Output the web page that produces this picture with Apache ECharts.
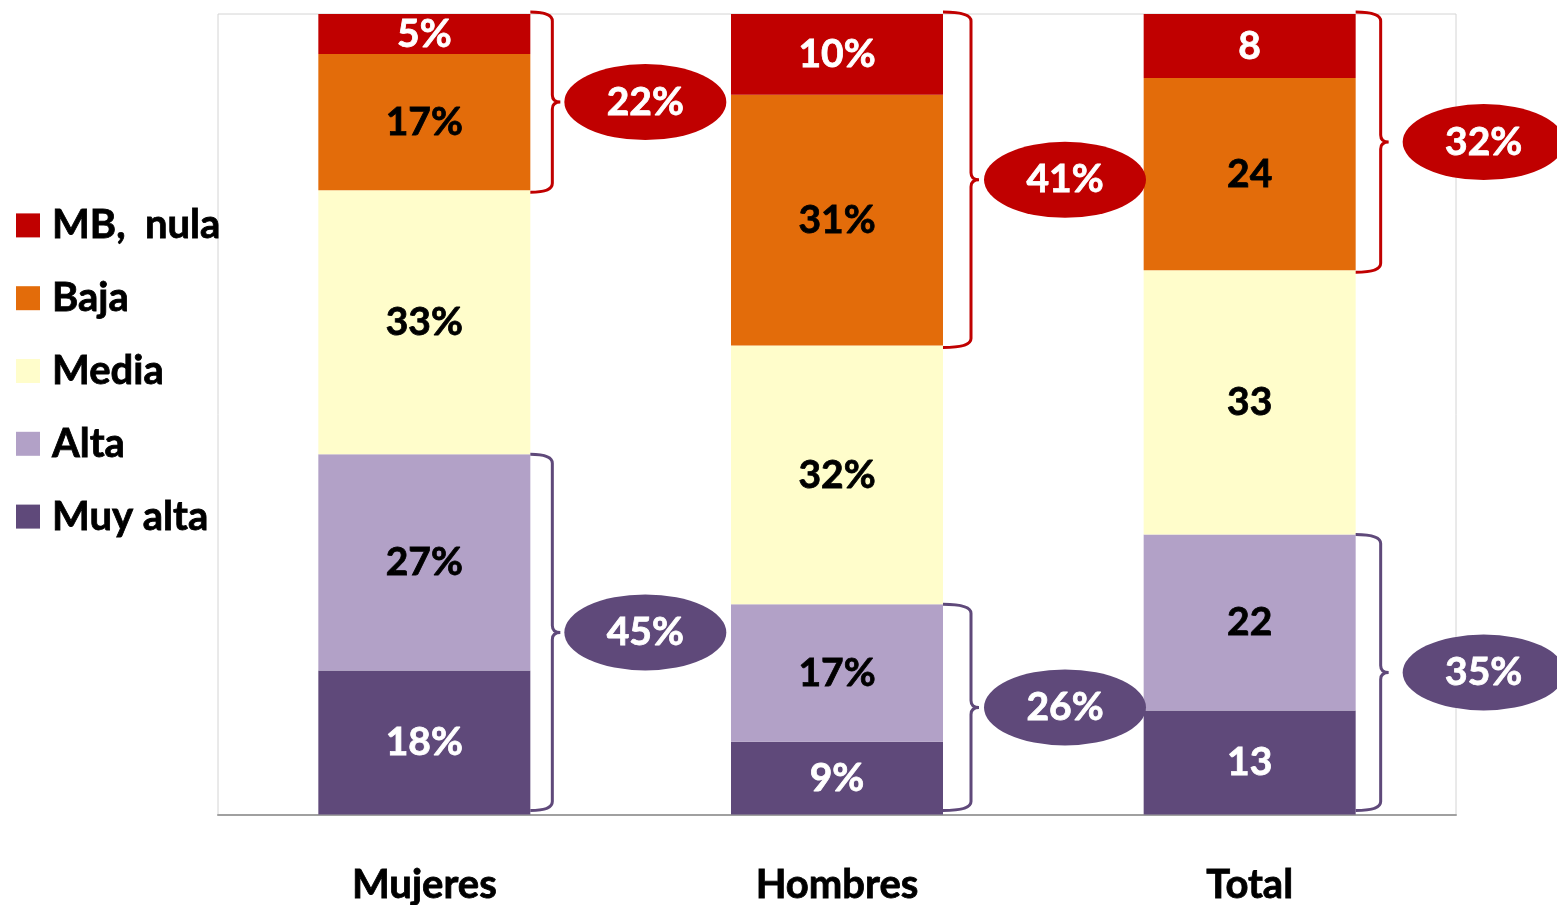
<!DOCTYPE html>
<html>
<head>
<meta charset="utf-8">
<script src="https://cdn.jsdelivr.net/npm/echarts@6/dist/echarts.min.js"></script>
<style>
    html,body{margin:0;padding:0;background:#fff;}
    #chart{width:1557px;height:905px;}
</style>
</head>
<body>
<div id="chart"></div>
<script>
    // datos
    const categories = ['Mujeres', 'Hombres', 'Total'];
    const muyAlta = [18, 9, 13];
    const alta = [27, 17, 22];
    const media = [33, 32, 33];
    const baja = [17, 31, 24];
    const mbNula = [5, 10, 8];
    const sumaAlta = [45, 26, 35];   // Alta + Muy alta (óvalo morado)
    const sumaBaja = [22, 41, 32];   // MB, nula + Baja (óvalo rojo)
    const unidades = ['%', '%', ''];

    const FONT = 'Lato';
    const BAR_W = 212;
    // separación de llave y óvalo respecto al borde derecho de cada barra
    const llaveDx = [22, 28, 25];
    const ovaloDx = [115, 122, 128];
    const colores = {
        'Muy alta': '#5F497A',
        'Alta': '#B2A1C7',
        'Media': '#FFFDCB',
        'Baja': '#E36C0A',
        'MB,  nula': '#C00000'
    };
    const textoBlanco = {'Muy alta': true, 'MB,  nula': true};

    // barras al 100%
    const grupos = [
        ['Muy alta', muyAlta],
        ['Alta', alta],
        ['Media', media],
        ['Baja', baja],
        ['MB,  nula', mbNula]
    ];
    const totales = categories.map((c, i) => grupos.reduce((s, g) => s + g[1][i], 0));
    const pct = (arr, i) => arr[i] / totales[i] * 100;

    const barSeries = grupos.map(([name, arr]) => {
        const col = textoBlanco[name] ? '#fff' : '#000';
        return {
            name: name,
            type: 'bar',
            stack: 'total',
            barWidth: BAR_W,
            itemStyle: {color: colores[name]},
            label: {
                show: true,
                position: 'inside',
                fontFamily: FONT,
                fontWeight: 'bold',
                fontSize: 39,
                color: col,
                textBorderColor: col,
                textBorderWidth: 0.8,
                formatter: p => arr[p.dataIndex] + unidades[p.dataIndex]
            },
            data: categories.map((c, i) => pct(arr, i))
        };
    });

    // llaves + óvalos: [categoria, desde, hasta, valor, tipo(0 rojo,1 morado)]
    const llaves = [];
    categories.forEach((c, i) => {
        llaves.push([i, 0, pct(muyAlta, i) + pct(alta, i), sumaAlta[i], 1]);
        llaves.push([i, 100 - pct(mbNula, i) - pct(baja, i), 100, sumaBaja[i], 0]);
    });

    const braceSeries = {
        type: 'custom',
        name: 'llaves',
        clip: false,
        z: 10,
        silent: true,
        data: llaves,
        renderItem(params, api) {
            const cat = api.value(0);
            const pLo = api.coord([cat, api.value(1)]);
            const pHi = api.coord([cat, api.value(2)]);
            const morado = api.value(4) === 1;
            const color = morado ? '#5F497A' : '#C00000';
            const xr = pLo[0] + BAR_W / 2;
            const xv = xr + llaveDx[cat];
            const xt = xv + 8;
            const yTop = morado ? pHi[1] : pHi[1] - 2;
            const yBot = morado ? pLo[1] - 4 : pLo[1] + 2;
            const ym = (yTop + yBot) / 2;
            const path = `M${xr} ${yTop} Q${xv} ${yTop} ${xv} ${yTop + 9} L${xv} ${ym - 7} ` +
                `Q${xv} ${ym} ${xt} ${ym} Q${xv} ${ym} ${xv} ${ym + 7} L${xv} ${yBot - 9} ` +
                `Q${xv} ${yBot} ${xr} ${yBot}`;
            const cx = xr + ovaloDx[cat];
            return {
                type: 'group',
                children: [
                    {type: 'path', shape: {pathData: path}, style: {stroke: color, lineWidth: 3, fill: 'none'}},
                    {type: 'circle', x: cx, y: ym, scaleY: 38 / 81, shape: {cx: 0, cy: 0, r: 81}, style: {fill: color}},
                    {type: 'text', x: cx, y: ym, style: {
                        text: api.value(3) + '%', fill: '#fff', font: 'bold 39px ' + FONT,
                        stroke: '#fff', lineWidth: 0.8,
                        align: 'center', verticalAlign: 'middle'
                    }}
                ]
            };
        }
    };

    const myChart = echarts.init(document.getElementById('chart'));
    myChart.setOption({
        animation: false,
        grid: {
            left: 218, right: 101, top: 14, bottom: 89,
            show: true, borderColor: '#d4d4d4', borderWidth: 1
        },
        legend: {
            orient: 'vertical',
            left: 11, top: 200,
            itemWidth: 24, itemHeight: 24, itemGap: 32,
            icon: 'rect',
            data: ['MB,  nula', 'Baja', 'Media', 'Alta', 'Muy alta'],
            textStyle: {
                fontFamily: FONT, fontWeight: 'bold', fontSize: 40, color: '#000',
                textBorderColor: '#000', textBorderWidth: 0.8,
                padding: [0, 0, 0, 7]
            }
        },
        xAxis: {
            type: 'category',
            data: categories,
            axisLine: {lineStyle: {color: '#a0a0a0', width: 2}},
            axisTick: {show: false},
            axisLabel: {
                margin: 50, fontFamily: FONT, fontWeight: 'bold', fontSize: 40, color: '#000',
                textBorderColor: '#000', textBorderWidth: 0.8
            }
        },
        yAxis: {
            type: 'value', min: 0, max: 100,
            show: false, splitLine: {show: false}
        },
        series: barSeries.concat([braceSeries])
    });
</script>
</body>
</html>
